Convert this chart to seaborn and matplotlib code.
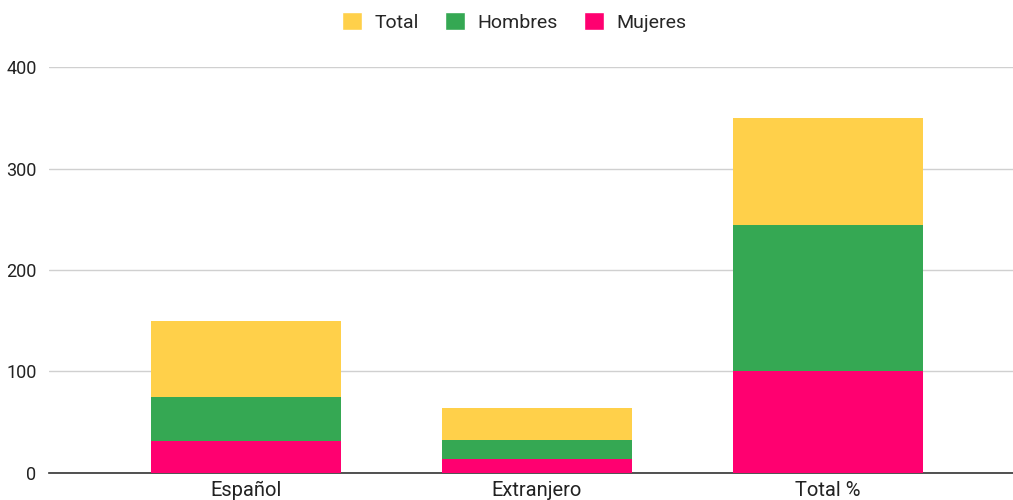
import numpy as np
import matplotlib
matplotlib.use("Agg")
from matplotlib import pyplot as plt
from matplotlib.patches import Patch
import seaborn as sns

categorias = ["Español", "Extranjero", "Total %"]
mujeres = [31, 14, 100]
hombres = [44, 18, 144]
total = [75, 32, 106]

colores = {"Total": "#FFD04A", "Hombres": "#35A853", "Mujeres": "#FF0070"}

sns.set_style("white")
plt.rcParams['font.family'] = ['Roboto', 'DejaVu Sans']

fig = plt.figure(figsize=(10.13, 5.0), dpi=100)
ax = fig.add_axes([49 / 1013, 0.0546, 964 / 1013, 0.8108])

# stacked bars: draw cumulative heights from the top down
muj = np.array(mujeres)
hom_acum = muj + np.array(hombres)
tot_acum = hom_acum + np.array(total)

for vals, nombre in [(tot_acum, "Total"), (hom_acum, "Hombres"), (muj, "Mujeres")]:
    sns.barplot(x=categorias, y=vals, color=colores[nombre], width=0.653,
                saturation=1, linewidth=0, edgecolor="none", ax=ax, zorder=3)

ax.set_xlim(-0.677, 2.636)
ax.set_ylim(0, 400)
ax.set_yticks([0, 100, 200, 300, 400])
ax.yaxis.grid(True, color="#d0d0d0", linewidth=1, zorder=0)
ax.set_axisbelow(True)
for s in ["top", "right", "left"]:
    ax.spines[s].set_visible(False)
ax.spines["bottom"].set_color("#333333")
ax.spines["bottom"].set_linewidth(1.2)
ax.tick_params(axis="y", length=0, pad=9, labelsize=13, labelcolor="#222222")
ax.tick_params(axis="x", length=0, pad=6, labelsize=14.5, labelcolor="#222222")

handles = [Patch(facecolor=colores[n], label=n) for n in ["Total", "Hombres", "Mujeres"]]
fig.legend(handles=handles, loc="center", bbox_to_anchor=(0.508, 0.956), ncol=3,
           frameon=False, fontsize=14, handlelength=1.0, handleheight=1.0,
           columnspacing=1.35, handletextpad=0.67)

fig.savefig("out.png", dpi=100)
